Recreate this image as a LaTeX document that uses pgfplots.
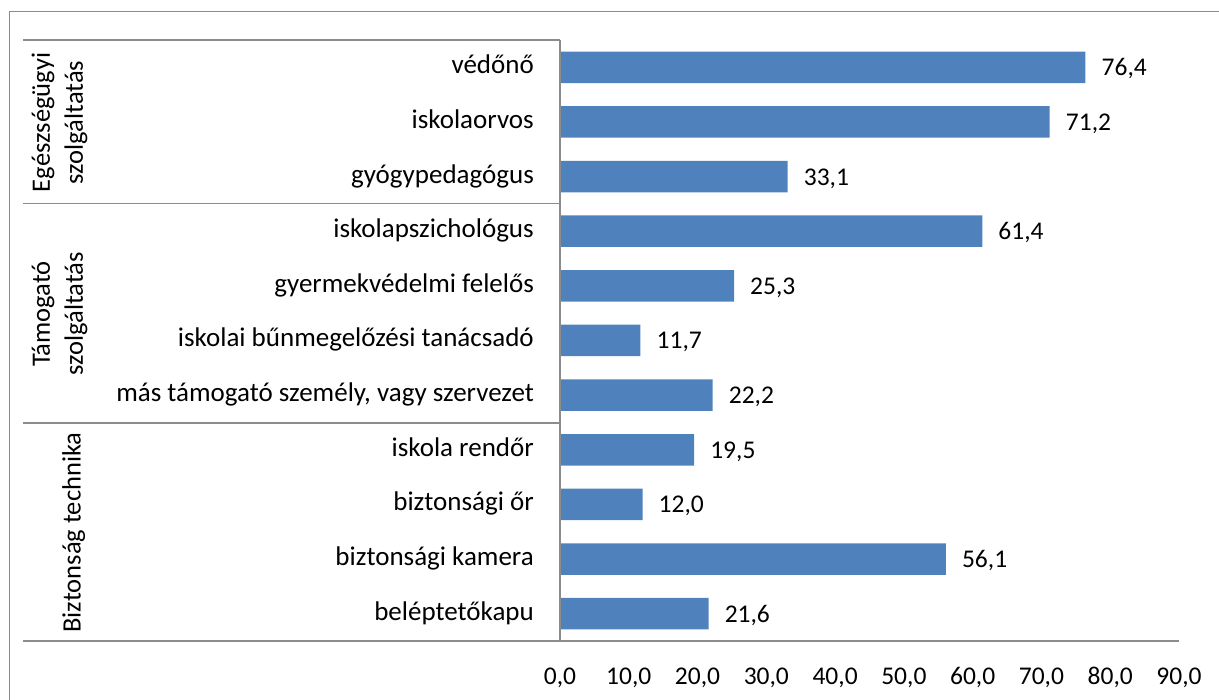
\documentclass[border=0pt]{standalone}
\usepackage{fontspec}
\setmainfont{Carlito}
\usepackage{pgfplots}
\pgfplotsset{compat=1.18}
\definecolor{barblue}{HTML}{4F81BD}
\definecolor{linegray}{HTML}{8C8C8C}
\begin{document}
\fontsize{27}{32}\selectfont
\begin{tikzpicture}
\useasboundingbox (-560pt,-59pt) rectangle (659pt,641pt);
\begin{axis}[
  at={(0pt,0pt)}, anchor=south west,
  scale only axis, width=619pt, height=601pt,
  xbar, bar width=31.5pt,
  clip=false,
  xmin=0, xmax=90, ymin=0.5, ymax=11.5, y dir=reverse,
  xtick={0,10,...,90}, ytick={1,...,11},
  yticklabels={védőnő, iskolaorvos, gyógypedagógus, iskolapszichológus, gyermekvédelmi felelős, iskolai bűnmegelőzési tanácsadó, {más támogató személy, vagy szervezet}, iskola rendőr, biztonsági őr, biztonsági kamera, beléptetőkapu},
  axis line style={draw=none},
  major tick length=0pt,
  tick style={draw=none},
  xticklabel style={font=\fontsize{25.5}{30}\selectfont, anchor=base, inner sep=0pt, yshift=-43pt},
  yticklabel style={font=\fontsize{27}{32}\selectfont, anchor=base east, inner sep=0pt, xshift=-26pt, yshift=-6.5pt},
  /pgf/number format/fixed, /pgf/number format/fixed zerofill,
  /pgf/number format/precision=1, /pgf/number format/use comma,
  /pgf/number format/assume math mode=true,
  nodes near coords, point meta=x,
  every node near coord/.append style={anchor=base west, inner sep=0pt, xshift=16pt, yshift=-8.5pt, font=\fontsize{25.5}{30}\selectfont, text=black},
]
\addplot[fill=barblue, draw=none] coordinates {(76.4,1) (71.2,2) (33.1,3) (61.4,4) (25.3,5) (11.7,6) (22.2,7) (19.5,8) (12.0,9) (56.1,10) (21.6,11)};
\end{axis}
\draw[linegray, line width=1.5pt] (-550.5pt,-59pt) -- (-550.5pt,629.3pt) -- (659pt,629.3pt);
\draw[linegray, line width=1.3pt] (-537pt,601pt) -- (0pt,601pt);
\draw[linegray, line width=1.3pt] (-537pt,437.5pt) -- (0pt,437.5pt);
\draw[linegray, line width=1.3pt] (-537pt,218pt) -- (0pt,218pt);
\draw[linegray, line width=1.3pt] (-537pt,0pt) -- (619pt,0pt);
\draw[linegray, line width=1.3pt] (0pt,0pt) -- (0pt,601pt);
\begin{scope}[every node/.style={font=\fontsize{26.5}{31}\selectfont, rotate=90, anchor=base, inner sep=0pt}]
\node at (-510pt,518.5pt) {Egészségügyi};
\node at (-477pt,518.5pt) {szolgáltatás};
\node at (-510pt,327pt) {Támogató};
\node at (-477pt,327pt) {szolgáltatás};
\node at (-479.3pt,108.5pt) {Biztonság technika};
\end{scope}
\end{tikzpicture}
\end{document}
